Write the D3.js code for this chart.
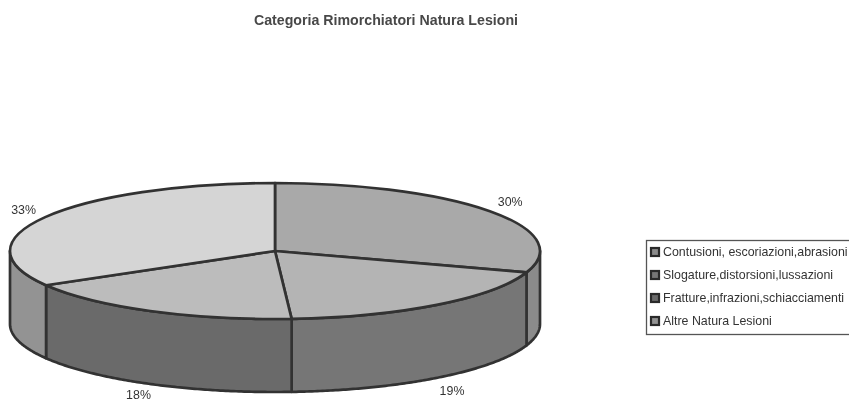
<!DOCTYPE html>
<html>
<head>
<meta charset="utf-8">
<script src="https://cdn.jsdelivr.net/npm/d3@7"></script>
<style>
html, body { margin: 0; background: #fff; }
svg { display: block; }
text { font-family: "Liberation Sans", Arial, sans-serif; fill: #333; }
</style>
</head>
<body>
<div class="graphic"></div>
<script>
var categories = ["Contusioni, escoriazioni,abrasioni", "Slogature,distorsioni,lussazioni", "Fratture,infrazioni,schiacciamenti", "Altre Natura Lesioni"];
var values = [30.1, 18.9, 17.6, 33.4];
var labels = ["30%", "19%", "18%", "33%"];
var topColors = ["#a9a9a9", "#b4b4b4", "#bcbcbc", "#d5d5d5"];
var wallColors = ["#8b8b8b", "#767676", "#6b6b6b", "#939393"];
var chartTitle = "Categoria Rimorchiatori Natura Lesioni";

var width = 849;
var height = 401;
var cx = 275, cy = 251, rx = 265, ry = 68, depth = 73;
var ink = "#333";

var svg = d3.select("div.graphic").append("svg")
	.attr("width", width)
	.attr("height", height);

// slight blur, the reference is a scan
var blur = svg.append("defs").append("filter").attr("id", "scan");
blur.append("feGaussianBlur").attr("stdDeviation", 0.45);

var root = svg.append("g").attr("filter", "url(#scan)");

var slices = d3.pie().sort(null)(values);

var pie = root.append("g").attr("transform", "translate(" + cx + "," + cy + ")");

function ellipseX(a) { return rx * Math.sin(a); }
function ellipseY(a) { return -ry * Math.cos(a); }

// walls: only the part of each slice facing the viewer
var wallLine = d3.line()
	.x(function (p) { return ellipseX(p.a); })
	.y(function (p) { return ellipseY(p.a) + p.z; });

function wallPath(s) {
	var a0 = Math.max(s.startAngle, Math.PI / 2);
	var a1 = Math.min(s.endAngle, Math.PI * 1.5);
	if (a1 <= a0) return null;
	var angles = d3.range(a0, a1, 0.01).concat([a1]);
	var pts = angles.map(function (a) { return { a: a, z: 0 }; })
		.concat(angles.slice().reverse().map(function (a) { return { a: a, z: depth }; }));
	return wallLine(pts) + "Z";
}

pie.selectAll("path.wall")
	.data(slices)
	.enter()
	.append("path")
	.attr("class", "wall")
	.attr("d", wallPath)
	.attr("fill", function (d, i) { return wallColors[i]; })
	.attr("stroke", ink)
	.attr("stroke-width", 2.7)
	.attr("stroke-linejoin", "round");

// top face: circle arcs squashed into an ellipse
var arc = d3.arc().innerRadius(0).outerRadius(rx);
pie.append("g")
	.attr("transform", "scale(1," + (ry / rx) + ")")
	.selectAll("path")
	.data(slices)
	.enter()
	.append("path")
	.attr("d", arc)
	.attr("fill", function (d, i) { return topColors[i]; })
	.attr("stroke", ink)
	.attr("stroke-width", 2.7)
	.attr("stroke-linejoin", "round")
	.attr("vector-effect", "non-scaling-stroke");

// percent labels sit on a wider ellipse, pushed below the wall at the front
pie.selectAll("text")
	.data(slices)
	.enter()
	.append("text")
	.attr("x", function (d) { return 290 * Math.sin((d.startAngle + d.endAngle) / 2); })
	.attr("y", function (d) {
		var a = (d.startAngle + d.endAngle) / 2;
		var y = -84 * Math.cos(a) + (Math.cos(a) < 0 ? depth : 0);
		return Math.min(y, height - cy - 6.5);
	})
	.attr("dy", "0.35em")
	.attr("text-anchor", "middle")
	.attr("font-size", 12.4)
	.text(function (d, i) { return labels[i]; });

root.append("text")
	.attr("x", 386)
	.attr("y", 25)
	.attr("text-anchor", "middle")
	.attr("font-size", 14.2)
	.attr("font-weight", "bold")
	.attr("fill-opacity", 0.9)
	.text(chartTitle);

// legend, runs off the right edge like the original
var legend = root.append("g");
legend.append("rect")
	.attr("x", 646.5)
	.attr("y", 240.5)
	.attr("width", 230)
	.attr("height", 94)
	.attr("fill", "#fff")
	.attr("stroke", "#555")
	.attr("stroke-width", 1.3);

var rowY = d3.scalePoint().domain(categories).range([252, 321]);

var rows = legend.selectAll("g.row")
	.data(categories)
	.enter()
	.append("g")
	.attr("class", "row")
	.attr("transform", function (d) { return "translate(0," + rowY(d) + ")"; });

rows.append("rect")
	.attr("x", 651)
	.attr("y", -4)
	.attr("width", 8)
	.attr("height", 8)
	.attr("fill", function (d, i) { return wallColors[i]; })
	.attr("stroke", "#2a2a2a")
	.attr("stroke-width", 2.2);

rows.append("text")
	.attr("x", 663)
	.attr("dy", "0.35em")
	.attr("font-size", 12.4)
	.text(function (d) { return d; });
</script>
</body>
</html>
